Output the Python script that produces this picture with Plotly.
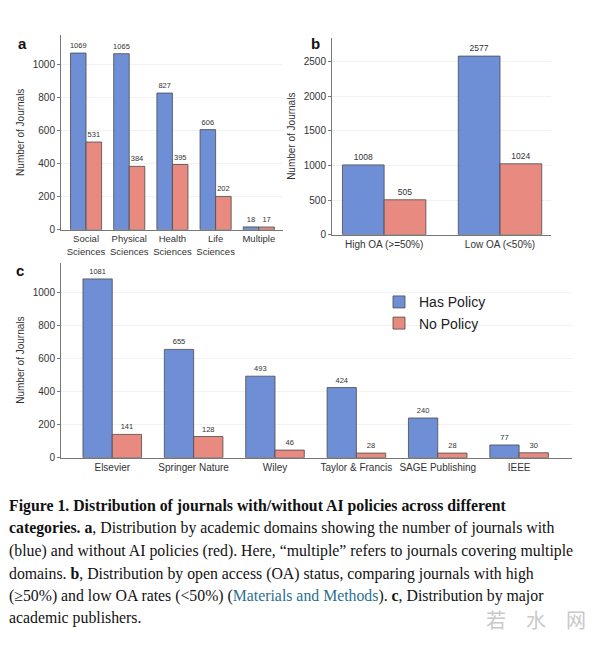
import plotly.graph_objects as go

# ---------------- data ----------------
domains = ["Social Sciences", "Physical Sciences", "Health Sciences", "Life Sciences", "Multiple"]
domain_labels = ["Social<br>Sciences", "Physical<br>Sciences", "Health<br>Sciences", "Life<br>Sciences", "Multiple"]
domain_has = [1069, 1065, 827, 606, 18]
domain_no = [531, 384, 395, 202, 17]

oa_status = ["High OA (>=50%)", "Low OA (<50%)"]
oa_labels = ["High OA (&gt;=50%)", "Low OA (&lt;50%)"]
oa_has = [1008, 2577]
oa_no = [505, 1024]

publishers = ["Elsevier", "Springer Nature", "Wiley", "Taylor & Francis", "SAGE Publishing", "IEEE"]
publisher_labels = ["Elsevier", "Springer Nature", "Wiley", "Taylor &amp; Francis", "SAGE Publishing", "IEEE"]
pub_has = [1081, 655, 493, 424, 240, 77]
pub_no = [141, 128, 46, 28, 28, 30]

BLUE = "#6e8fd6"
RED = "#e88a80"
EDGE = "#4a4a4a"
FONT = "Liberation Sans, Arial, sans-serif"
SERIF = "Liberation Serif, Times New Roman, serif"
W, H = 600, 647

fig = go.Figure()


def add_pair(x, has, no, xa, ya, tsize, legend):
    fig.add_trace(go.Bar(x=x, y=has, name="Has Policy", marker=dict(color=BLUE, line=dict(color=EDGE, width=0.8)),
                         text=[str(v) for v in has], textposition="outside", constraintext="none",
                         textfont=dict(size=tsize, color="#333", family=FONT), cliponaxis=False,
                         xaxis=xa, yaxis=ya, showlegend=legend, legendgroup="has"))
    fig.add_trace(go.Bar(x=x, y=no, name="No Policy", marker=dict(color=RED, line=dict(color=EDGE, width=0.8)),
                         text=[str(v) for v in no], textposition="outside", constraintext="none",
                         textfont=dict(size=tsize, color="#333", family=FONT), cliponaxis=False,
                         xaxis=xa, yaxis=ya, showlegend=legend, legendgroup="no"))


add_pair(domains, domain_has, domain_no, "x", "y", 7.5, False)
add_pair(oa_status, oa_has, oa_no, "x2", "y2", 8.5, False)
add_pair(publishers, pub_has, pub_no, "x3", "y3", 7.5, True)


def px2x(p):
    return p / W


def px2y(p):
    return 1 - p / H


axis_common = dict(showline=True, linecolor="#777", linewidth=1, color="#333",
                   tickfont=dict(size=10, family=FONT, color="#333"))
yax_common = dict(axis_common, ticks="outside", ticklen=3, tickcolor="#777", showgrid=True,
                  gridcolor="#f2f2f2", zeroline=False,
                  title=dict(text="Number of Journals", font=dict(size=10, family=FONT, color="#333"), standoff=6))

fig.update_layout(
    width=W, height=H, margin=dict(l=0, r=0, t=0, b=0),
    paper_bgcolor="white", plot_bgcolor="white",
    barmode="group", bargap=0.28, bargroupgap=0,
    font=dict(family=FONT, color="#333"),
    xaxis=dict(axis_common, domain=[px2x(61), px2x(283)], anchor="y", range=[-0.58, 4.56],
               tickmode="array", tickvals=domains, ticktext=domain_labels, showgrid=False,
               tickfont=dict(size=9.5, family=FONT, color="#333")),
    yaxis=dict(yax_common, domain=[px2y(232), px2y(35)], anchor="x", range=[0, 1180],
               tickvals=[0, 200, 400, 600, 800, 1000]),
    xaxis2=dict(axis_common, domain=[px2x(332), px2x(551)], anchor="y2", range=[-0.45, 1.44],
                tickmode="array", tickvals=oa_status, ticktext=oa_labels, showgrid=False),
    yaxis2=dict(yax_common, domain=[px2y(237), px2y(38)], anchor="x2", range=[0, 2843],
                tickvals=[0, 500, 1000, 1500, 2000, 2500]),
    xaxis3=dict(axis_common, domain=[px2x(61), px2x(572)], anchor="y3", range=[-0.63, 5.65],
                tickmode="array", tickvals=publishers, ticktext=publisher_labels, showgrid=False),
    yaxis3=dict(yax_common, domain=[px2y(462), px2y(265)], anchor="x3", range=[0, 1180],
                tickvals=[0, 200, 400, 600, 800, 1000]),
    legend=dict(x=px2x(379), y=px2y(289), xanchor="left", yanchor="top",
                font=dict(size=14, family=FONT, color="#222"), bgcolor="rgba(0,0,0,0)",
                tracegroupgap=0, itemwidth=30),
)

anns = []
for lab, x, y in [("a", 22, 44), ("b", 316, 44), ("c", 20, 273)]:
    anns.append(dict(text=f"<b>{lab}</b>", x=px2x(x), y=px2y(y), xref="paper", yref="paper",
                     showarrow=False, xanchor="center", yanchor="middle",
                     font=dict(size=15, family=FONT, color="#111")))

caption = [
    "<b>Figure 1. Distribution of journals with/without AI policies across different</b>",
    "<b>categories. a</b>, Distribution by academic domains showing the number of journals with",
    "(blue) and without AI policies (red). Here, \u201cmultiple\u201d refers to journals covering multiple",
    "domains. <b>b</b>, Distribution by open access (OA) status, comparing journals with high",
    "(\u226550%) and low OA rates (&lt;50%) (<span style='color:#2b6f8f'>Materials and Methods</span>). <b>c</b>, Distribution by major",
    "academic publishers.",
]
line_y = [511, 533, 556, 579, 602, 624]
for t, y in zip(caption, line_y):
    anns.append(dict(text=t, x=px2x(7), y=px2y(y), xref="paper", yref="paper", showarrow=False,
                     xanchor="left", yanchor="middle", font=dict(size=15.8, family=SERIF, color="#111")))

anns.append(dict(text="若\u3000水\u3000网", x=px2x(536), y=px2y(625), xref="paper", yref="paper",
                 showarrow=False, xanchor="center", yanchor="middle",
                 font=dict(size=20, family="Noto Sans CJK SC", color="#c9c9c9")))

fig.update_layout(annotations=anns)

fig.write_html("out.html", config={"displayModeBar": False},
               post_script="document.body.style.margin='0';document.body.style.overflow='hidden';")
